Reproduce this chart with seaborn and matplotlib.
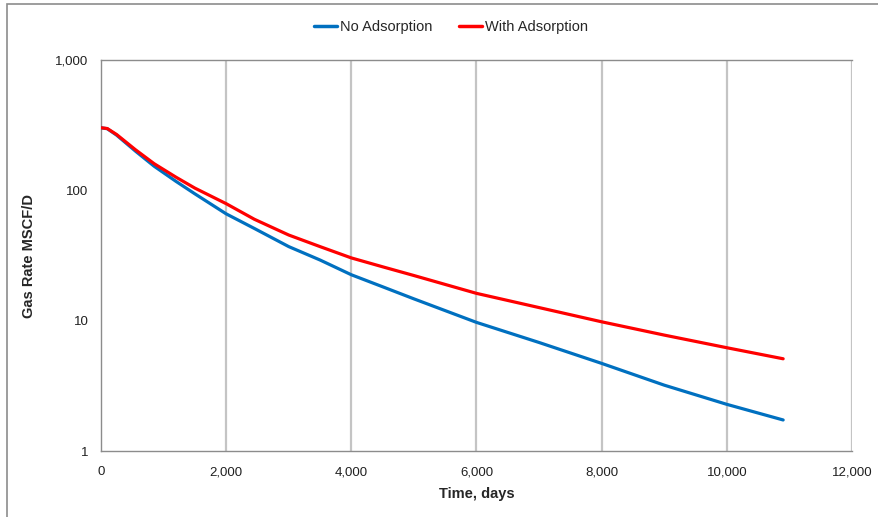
import matplotlib
matplotlib.use("Agg")
import matplotlib.pyplot as plt
import matplotlib.ticker as mticker
from matplotlib.patches import Rectangle
from matplotlib.lines import Line2D
import seaborn as sns
import pandas as pd

# ---- data ----
time_days = [0, 100, 250, 550, 850, 1200, 1500, 2000, 2450, 3000, 3500, 4000,
             4500, 5000, 6000, 7000, 8000, 9000, 10000, 10900]
no_adsorption = [302, 297, 265, 200, 153, 117, 94, 66, 51, 37, 29.2, 22.5,
                 18.2, 14.7, 9.7, 6.8, 4.7, 3.2, 2.28, 1.73]
with_adsorption = [302, 298, 268, 205, 160, 126, 104, 79, 60, 45.4, 37, 30.3,
                   25.9, 22.2, 16.2, 12.6, 9.8, 7.75, 6.2, 5.1]
series_names = ["No Adsorption", "With Adsorption"]
x_ticks = [0, 2000, 4000, 6000, 8000, 10000, 12000]
y_ticks = [1, 10, 100, 1000]

df = pd.concat([
    pd.DataFrame({"Time": time_days, "Rate": no_adsorption, "Series": series_names[0]}),
    pd.DataFrame({"Time": time_days, "Rate": with_adsorption, "Series": series_names[1]}),
])

sns.set_style("white")
plt.rcParams["font.family"] = ["Liberation Sans Narrow", "Liberation Sans", "DejaVu Sans"]

fig = plt.figure(figsize=(8.79, 5.17), dpi=100)
ax = fig.add_axes([101 / 879, 1 - 451 / 517, (852 - 101) / 879, (451 - 60) / 517])

palette = {"No Adsorption": "#0070C0", "With Adsorption": "#FF0000"}
sns.lineplot(data=df, x="Time", y="Rate", hue="Series", palette=palette,
             linewidth=2.3, ax=ax, legend=False, zorder=3)

ax.set_yscale("log")
ax.set_xlim(0, 12000)
ax.set_ylim(1, 1000)
ax.set_xticks(x_ticks)
ax.set_yticks(y_ticks)
ax.yaxis.set_minor_locator(mticker.NullLocator())
ax.xaxis.set_major_formatter(mticker.FuncFormatter(lambda v, p: f"{int(v):,}"))
ax.yaxis.set_major_formatter(mticker.FuncFormatter(lambda v, p: f"{int(round(v)):,}"))

ax.grid(False)
for xv in x_ticks[1:]:
    ax.axvline(xv, color="#C4C4C4", linewidth=1.6, zorder=1)

for side in ["left", "bottom", "top"]:
    ax.spines[side].set_visible(True)
    ax.spines[side].set_color("#8C8C8C")
    ax.spines[side].set_linewidth(1.0)
ax.spines["right"].set_visible(False)

ax.tick_params(axis="both", which="major", direction="out", length=5,
               color="#8C8C8C", labelsize=9.5, labelcolor="#202020", width=1.0)
ax.tick_params(axis="x", pad=6)
ax.tick_params(axis="y", pad=4)

ax.set_xlabel("Time, days", fontsize=10.5, fontweight="bold", labelpad=6)
ax.set_ylabel("Gas Rate MSCF/D", fontsize=10.5, fontweight="bold", labelpad=14)

handles = [Line2D([0], [0], color=palette[n], linewidth=2.5) for n in series_names]
fig.legend(handles, series_names, loc="center", bbox_to_anchor=(451 / 879, 1 - 27 / 517),
           ncol=2, frameon=False, fontsize=10.5, handlelength=1.6, handletextpad=0.2,
           columnspacing=1.8)

fig.patches.append(Rectangle((7 / 879, -0.1), 1.2, 1.1 - 3.5 / 517, transform=fig.transFigure,
                             fill=False, edgecolor="#8C8C8C", linewidth=1.2))

fig.savefig("out.png", dpi=100)
